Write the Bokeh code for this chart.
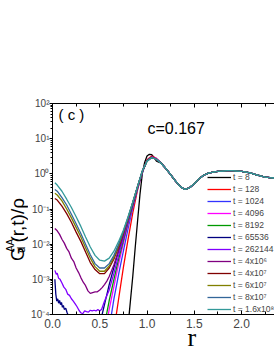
import math
from bokeh.plotting import figure
from bokeh.layouts import row
from bokeh.models import (Range1d, LinearAxis, SingleIntervalTicker, LogTicker, Legend,
                          LegendItem, Label, Title, CustomJSTickFormatter,
                          PrintfTickFormatter)
from bokeh.embed import file_html
from bokeh.resources import INLINE

# ---------------- data ----------------
LABELS = ["t = 8", "t = 128", "t = 1024", "t = 4096", "t = 8192", "t = 65536",
          "t = 262144", "t = 4x10\u2076", "t = 4x10\u2077", "t = 6x10\u2077",
          "t = 8x10\u2077", "t = 1.6x10\u2078"]
COLORS = ["#000000", "#FF0000", "#3333FF", "#FF00FF", "#009900", "#000080",
          "#8000FF", "#800080", "#800000", "#808000", "#336699", "#339999"]

# common tail (all times coincide for r >= 1.15)
TAIL_R = [1.15, 1.2, 1.25, 1.3, 1.35, 1.4, 1.45, 1.5, 1.55, 1.6, 1.65, 1.7, 1.75,
          1.8, 1.85, 1.9, 1.95, 2.0, 2.05, 2.1, 2.15, 2.2, 2.25, 2.3, 2.35]
TAIL_G = [2.0, 1.41, 0.95, 0.63, 0.44, 0.36, 0.40, 0.52, 0.72, 0.91, 1.05, 1.12, 1.17,
          1.2, 1.23, 1.23, 1.2, 1.17, 1.12, 1.05, 0.95, 0.87, 0.81, 0.78, 0.76]

HEAD_R = [0.025, 0.05, 0.1, 0.15, 0.2, 0.25, 0.3, 0.35, 0.4, 0.45, 0.5, 0.55, 0.6,
          0.65, 0.7, 0.75, 0.8, 0.85, 0.9, 0.95, 1.0, 1.05, 1.1]

t8_r = [0.8, 0.825, 0.85, 0.875, 0.9, 0.925, 0.95, 0.975, 1.0, 1.025, 1.05, 1.075, 1.1]
t8_g = [5e-5, 2.5e-4, 1.26e-3, 7.9e-3, 0.045, 0.25, 1.0, 2.1, 3.2, 3.6, 3.5, 2.95, 2.3]

t128_r = [0.65, 0.7, 0.75, 0.8, 0.85, 0.9, 0.95, 1.0, 1.05, 1.1]
t128_g = [3.5e-5, 2.8e-4, 2.2e-3, 0.014, 0.079, 0.35, 1.12, 2.5, 3.2, 2.75]

t1024_r = [0.6, 0.65, 0.7, 0.75, 0.8, 0.85, 0.9, 0.95, 1.0, 1.05, 1.1]
t1024_g = [4e-5, 2.8e-4, 1.4e-3, 6.3e-3, 0.028, 0.112, 0.37, 1.07, 2.4, 3.0, 2.7]

t4096_r = [0.55, 0.6, 0.65, 0.7, 0.75, 0.8, 0.85, 0.9, 0.95, 1.0, 1.05, 1.1]
t4096_g = [2.5e-5, 1.4e-4, 6.3e-4, 2.8e-3, 0.0105, 0.037, 0.126, 0.39, 1.1, 2.4, 3.0, 2.7]

t8192_r = [0.5, 0.55, 0.6, 0.65, 0.7, 0.75, 0.8, 0.85, 0.9, 0.95, 1.0, 1.05, 1.1]
t8192_g = [1e-5, 5e-5, 2.5e-4, 1.0e-3, 3.8e-3, 0.0126, 0.042, 0.13, 0.40, 1.12, 2.35, 2.95, 2.6]

t65536_r = [0.025, 0.035, 0.045, 0.055, 0.065, 0.075, 0.085, 0.095, 0.105, 0.115, 0.125,
            0.14, 0.155, 0.17, 0.19, 0.5, 0.525, 0.55, 0.6, 0.65, 0.7, 0.75, 0.8, 0.85,
            0.9, 0.95, 1.0, 1.05, 1.1]
t65536_g = [1.0e-3, 3.8e-4, 2.4e-4, 2.8e-4, 2.1e-4, 2.5e-4, 1.9e-4, 2.2e-4, 1.6e-4, 1.8e-4,
            1.4e-4, 1.5e-4, 1.12e-4, 8.9e-5, 5e-5, 5e-5, 1.0e-4, 1.9e-4, 7.1e-4, 2.2e-3,
            6.6e-3, 0.018, 0.05, 0.14, 0.42, 1.15, 2.35, 2.95, 2.6]

t262144_r = [0.025, 0.04, 0.05, 0.065, 0.08, 0.1, 0.12, 0.14, 0.16, 0.18, 0.2, 0.22, 0.24,
             0.26, 0.28, 0.3, 0.32, 0.34, 0.36, 0.38, 0.4, 0.42, 0.44, 0.46, 0.48, 0.5,
             0.52, 0.55, 0.6, 0.65, 0.7, 0.75, 0.8, 0.85, 0.9, 0.95, 1.0, 1.05, 1.1]
t262144_g = [1.8e-3, 1.4e-3, 1.5e-3, 1.07e-3, 1.0e-3, 7.9e-4, 6.0e-4, 5.2e-4, 3.8e-4, 3.5e-4,
             2.8e-4, 2.4e-4, 2.0e-4, 1.66e-4, 1.32e-4, 1.12e-4, 1.05e-4, 1.26e-4, 1.2e-4,
             1.17e-4, 1.32e-4, 1.26e-4, 1.32e-4, 1.26e-4, 1.38e-4, 1.26e-4, 1.41e-4, 2.4e-4,
             5.0e-4, 1.5e-3, 4.8e-3, 0.015, 0.047, 0.14, 0.42, 1.15, 2.35, 2.95, 2.6]

t4e6_r = [0.025, 0.05, 0.075, 0.1, 0.125, 0.15, 0.175, 0.2, 0.225, 0.25, 0.275, 0.3, 0.325,
          0.35, 0.375, 0.4, 0.425, 0.45, 0.475, 0.5, 0.525, 0.55, 0.575, 0.6, 0.65, 0.7,
          0.75, 0.8, 0.85, 0.9, 0.95, 1.0, 1.05, 1.1]
t4e6_g = [0.028, 0.024, 0.019, 0.0138, 0.0107, 0.0076, 0.0060, 0.0040, 0.0032, 0.0021,
          0.00158, 0.00112, 0.00083, 0.00066, 0.00047, 0.00040, 0.00042, 0.00044, 0.00044,
          0.00050, 0.00058, 0.00071, 0.00089, 0.0012, 0.0026, 0.0066, 0.018, 0.051, 0.148,
          0.43, 1.17, 2.35, 2.95, 2.6]

t4e7_g = [0.20, 0.18, 0.12, 0.074, 0.042, 0.022, 0.012, 0.0060, 0.0030, 0.0019, 0.00145,
          0.00145, 0.0021, 0.0038, 0.0085, 0.021, 0.055, 0.15, 0.43, 1.17, 2.35, 2.95, 2.6]
t6e7_g = [0.28, 0.25, 0.17, 0.10, 0.056, 0.030, 0.016, 0.0079, 0.0040, 0.0023, 0.0017,
          0.0017, 0.0024, 0.0042, 0.0091, 0.022, 0.056, 0.155, 0.43, 1.17, 2.3, 2.9, 2.6]
t8e7_g = [0.36, 0.32, 0.21, 0.13, 0.071, 0.038, 0.020, 0.010, 0.0050, 0.0028, 0.0021,
          0.0021, 0.0028, 0.0048, 0.010, 0.023, 0.058, 0.155, 0.44, 1.2, 2.3, 2.9, 2.6]
t16e8_g = [0.56, 0.48, 0.32, 0.19, 0.11, 0.060, 0.032, 0.016, 0.0083, 0.0048, 0.0035,
           0.0033, 0.0040, 0.0063, 0.012, 0.025, 0.060, 0.16, 0.44, 1.2, 2.3, 2.9, 2.6]

HEADS = [(t8_r, t8_g), (t128_r, t128_g), (t1024_r, t1024_g), (t4096_r, t4096_g),
         (t8192_r, t8192_g), (t65536_r, t65536_g), (t262144_r, t262144_g),
         (t4e6_r, t4e6_g), (HEAD_R, t4e7_g), (HEAD_R, t6e7_g), (HEAD_R, t8e7_g),
         (HEAD_R, t16e8_g)]

X_START, X_END = 0.0, 2.349
Y_START, Y_END = 1e-4, 1e2

FONT = "Liberation Sans"
PAGE_W, PAGE_H = 274, 355
LW = 28            # width of the strip holding the y-axis title
ML, MR, MT, MB = 52 - LW, 0, 103, 41
MW = PAGE_W - LW

# ---------------- main figure ----------------
p = figure(width=MW, height=PAGE_H, output_backend="svg", toolbar_location=None,
           x_range=Range1d(X_START, X_END), y_range=Range1d(Y_START, Y_END),
           y_axis_type="log", min_border_left=ML, min_border_right=MR,
           min_border_top=MT, min_border_bottom=MB)
p.outline_line_color = None
p.grid.visible = False
p.background_fill_color = "white"
p.border_fill_color = "white"

xa = p.xaxis[0]
xa.ticker = SingleIntervalTicker(interval=0.5, num_minor_ticks=2)
xa.formatter = PrintfTickFormatter(format="%.1f")
xa.major_tick_in = 4
xa.major_tick_out = 0
xa.minor_tick_in = 3
xa.minor_tick_out = 0
xa.major_label_text_font = FONT
xa.major_label_text_font_size = "12px"
xa.major_label_standoff = 4
xa.axis_line_color = "black"

top = LinearAxis(ticker=SingleIntervalTicker(interval=0.5, num_minor_ticks=2),
                 major_label_text_color=None, major_tick_in=4, major_tick_out=0,
                 minor_tick_in=3, minor_tick_out=0, major_label_text_font_size="1px",
                 major_label_standoff=0)
p.add_layout(top, "above")

ya = p.yaxis[0]
ya.ticker = LogTicker(num_minor_ticks=10)
ya.formatter = CustomJSTickFormatter(code="""
const sup = {"0":"\u2070","1":"\u00b9","2":"\u00b2","3":"\u00b3","4":"\u2074","5":"\u2075",
             "6":"\u2076","7":"\u2077","8":"\u2078","9":"\u2079","-":"\u207b"};
const e = Math.round(Math.log10(tick));
return "10" + String(e).split("").map(c => sup[c]).join("");
""")
ya.major_tick_in = 0
ya.major_tick_out = 3
ya.minor_tick_in = 0
ya.minor_tick_out = 2
ya.major_label_text_font = FONT
ya.major_label_text_font_size = "10px"
ya.major_label_standoff = 0

# x-axis title "r", in the panel below the axis
p.add_layout(Title(text="r", align="left", offset=135, vertical_align="top",
                   standoff=-16, text_font="Liberation Serif", text_font_size="26px",
                   text_font_style="normal", text_color="black"), "below")

items = []
for (r_head, g_head), lab, col in zip(HEADS, LABELS, COLORS):
    r = list(r_head) + TAIL_R
    g = list(g_head) + TAIL_G
    rend = p.line(r, g, line_color=col, line_width=1.3)
    items.append(LegendItem(label=lab, renderers=[rend]))

leg = Legend(items=items, location=(155, 0), glyph_width=24, glyph_height=10,
             label_height=10, spacing=2, padding=0, margin=0, label_standoff=2,
             background_fill_alpha=0, border_line_color=None,
             label_text_font=FONT, label_text_font_size="8.5px")
p.add_layout(leg, "center")

# in-frame texts, placed by page pixel -> data
FX0, FY0 = 52, 103
FW, FH = 222, 211
def at(px, py):
    x = X_START + (px - FX0) / FW * (X_END - X_START)
    ly = math.log10(Y_END) - (py - FY0) / FH * (math.log10(Y_END) - math.log10(Y_START))
    return x, 10 ** ly

def frame_text(px, py, txt, size):
    x, y = at(px, py)
    p.add_layout(Label(x=x, y=y, text=txt, text_font=FONT, text_font_size=size,
                       text_color="black", text_align="left", text_baseline="middle"))

frame_text(58, 114, "( c )", "15px")
frame_text(147, 128, "c=0.167", "16px")

# ---------------- y-axis title strip (pixel-space figure) ----------------
left = figure(width=LW, height=PAGE_H, output_backend="svg", toolbar_location=None,
              x_range=Range1d(0, LW), y_range=Range1d(PAGE_H, 0),
              x_axis_type=None, y_axis_type=None, min_border=0)
left.outline_line_color = None
left.grid.visible = False
left.background_fill_color = "white"
left.border_fill_color = "white"

def strip_text(x, y, txt, size):
    left.add_layout(Label(x=x, y=y, text=txt, text_font=FONT, text_font_size=size,
                          text_color="black", angle=math.pi / 2, text_align="left",
                          text_baseline="alphabetic"))

strip_text(17, 265, "G", "18px")
strip_text(20.5, 251, "d", "11px")
strip_text(10, 250, "AA", "10px")
strip_text(17, 234, "(r,t)/\u03c1", "19px")

layout = row(left, p)
open("out.html", "w").write(file_html(layout, INLINE))
